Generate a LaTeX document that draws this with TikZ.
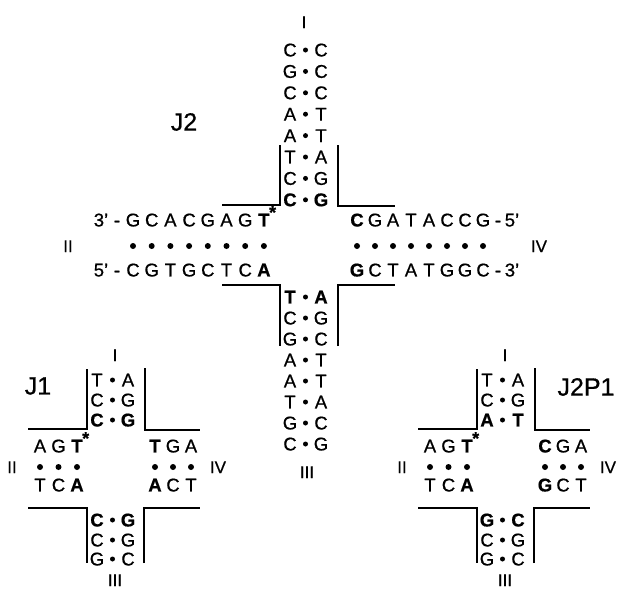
\documentclass[tikz,border=0pt]{standalone}
\usepackage{fontspec}
\setmainfont{Liberation Sans}[FakeBold=0.7]
\tikzset{
  nt/.style={inner sep=0pt, text height=12.9pt, text depth=0pt, font=\fontsize{18.5}{21}\selectfont},
  rn/.style={inner sep=0pt, text height=12.2pt, text depth=0pt, font=\fontsize{17}{20}\selectfont},
  jl/.style={inner sep=0pt, font=\fontsize{25}{29}\selectfont},
  pd/.style={circle, fill=black, inner sep=0pt, minimum size=5pt},
  hd/.style={circle, fill=black, inner sep=0pt, minimum size=6pt},
  helix/.style={line width=1.6pt},
  ast/.style={inner sep=0pt, anchor=base west, font=\fontsize{18}{20}\selectfont\bfseries},
}
% pair row: name, x of left letter, y, left, right
\newcommand\bpr[5]{%
  \node[nt] (#1l) at (#2,#3) {#4};
  \node[pd] (#1d) at (#2+15.5,#3) {};
  \node[nt] (#1r) at (#2+31,#3) {#5};}
\begin{document}
\begin{tikzpicture}[x=1pt,y=-1pt]
\useasboundingbox (0,0) rectangle (621,592);

% ================= J2 =================
\node[jl] (j2lab) at (184,122) {J2};
\node[rn] (j2I) at (304,22) {I};
\bpr{j2a}{290}{50}{C}{C}
\bpr{j2b}{290}{71.4}{G}{C}
\bpr{j2c}{290}{92.8}{C}{C}
\bpr{j2d}{290}{114.2}{A}{T}
\bpr{j2e}{290}{135.6}{A}{T}
\bpr{j2f}{290}{157}{T}{A}
\bpr{j2g}{290}{178.4}{C}{G}
\bpr{j2h}{290}{199.8}{\bfseries C}{\bfseries G}

\bpr{j2p}{290}{297}{\bfseries T}{\bfseries A}
\bpr{j2q}{290}{318}{C}{G}
\bpr{j2r}{290}{339}{G}{C}
\bpr{j2s}{290}{360}{A}{T}
\bpr{j2t}{290}{381}{A}{T}
\bpr{j2u}{290}{402}{T}{A}
\bpr{j2v}{290}{423}{G}{C}
\bpr{j2w}{290}{444}{C}{G}
\node[rn] (j2III) at (307,472) {III};

% left arm
\node[rn] (j2II) at (68,246) {II};
\node[nt] (j2l3) at (101,220) {3'};
\node[nt] (j2lh) at (117,220) {-};
\node[nt] (j2l5) at (101,270) {5'};
\node[nt] (j2lh2) at (117,270) {-};
\foreach \c [count=\i] in {G,C,A,C,G,A,G,{\bfseries T}}
  \node[nt] (j2ta\i) at ({133+18.7*(\i-1)},220) {\c};
\foreach \c [count=\i] in {C,G,T,G,C,T,C,{\bfseries A}}
  \node[nt] (j2ba\i) at ({133+18.7*(\i-1)},270) {\c};
\foreach \i in {1,...,8}
  \node[hd] (j2da\i) at ({133+18.7*(\i-1)},246) {};
\node[ast] (j2st) at ([xshift=5pt,yshift=1.5pt]j2ta8.center) {*};

% right arm
\foreach \c [count=\i] in {{\bfseries C},G,A,T,A,C,C,G}
  \node[nt] (j2tb\i) at ({357+18*(\i-1)},220) {\c};
\foreach \c [count=\i] in {{\bfseries G},C,T,A,T,G,G,C}
  \node[nt] (j2bb\i) at ({357+18*(\i-1)},270) {\c};
\foreach \i in {1,...,8}
  \node[hd] (j2db\i) at ({357+18*(\i-1)},246) {};
\node[nt] (j2rh) at (498,220) {-};
\node[nt] (j2r5) at (512,220) {5'};
\node[nt] (j2rh2) at (498,270) {-};
\node[nt] (j2r3) at (512,270) {3'};
\node[rn] (j2IV) at (539,246) {IV};

\draw[helix] (222,205) -- (280,205) -- (280,145);
\draw[helix] (338,145) -- (338,206) -- (395,206);
\draw[helix] (222,285) -- (280,285) -- (280,346);
\draw[helix] (338,346) -- (338,285) -- (395,285);

% ================= J1 =================
\node[jl] (j1lab) at (38,386) {J1};
\node[rn] (j1I) at (115,355) {I};
\bpr{j1a}{97}{380}{T}{A}
\bpr{j1b}{97}{400}{C}{G}
\bpr{j1c}{97}{420}{\bfseries C}{\bfseries G}
\bpr{j1d}{97}{520}{\bfseries C}{\bfseries G}
\bpr{j1e}{97}{540}{C}{G}
\bpr{j1f}{97}{559}{G}{C}
\node[rn] (j1III) at (115,580) {III};
\node[rn] (j1II) at (12,467) {II};
\node[rn] (j1IV) at (218,467) {IV};
\foreach \c [count=\i] in {A,G,{\bfseries T}}
  \node[nt] (j1ta\i) at ({40+18.5*(\i-1)},446) {\c};
\foreach \c [count=\i] in {T,C,{\bfseries A}}
  \node[nt] (j1ba\i) at ({40+18.5*(\i-1)},485) {\c};
\foreach \i in {1,2,3}
  \node[hd] (j1da\i) at ({40+18.5*(\i-1)},467) {};
\node[ast] (j1st) at ([xshift=5pt,yshift=1.5pt]j1ta3.center) {*};
\foreach \c [count=\i] in {{\bfseries T},G,A}
  \node[nt] (j1tb\i) at ({155+18*(\i-1)},446) {\c};
\foreach \c [count=\i] in {{\bfseries A},C,T}
  \node[nt] (j1bb\i) at ({155+18*(\i-1)},485) {\c};
\foreach \i in {1,2,3}
  \node[hd] (j1db\i) at ({155+18*(\i-1)},467) {};
\draw[helix] (28,429) -- (87,429) -- (87,369);
\draw[helix] (145,368) -- (145,430) -- (200,430);
\draw[helix] (28,508) -- (87,508) -- (87,563);
\draw[helix] (144,563) -- (144,508) -- (200,508);

% ================= J2P1 =================
\begin{scope}[xshift=390pt]
\node[jl] (j3lab) at (196,387) {J2P1};
\node[rn] (j3I) at (115,355) {I};
\bpr{j3a}{97}{380}{T}{A}
\bpr{j3b}{97}{400}{C}{G}
\bpr{j3c}{97}{420}{\bfseries A}{\bfseries T}
\bpr{j3d}{97}{520}{\bfseries G}{\bfseries C}
\bpr{j3e}{97}{540}{C}{G}
\bpr{j3f}{97}{559}{G}{C}
\node[rn] (j3III) at (115,580) {III};
\node[rn] (j3II) at (12,467) {II};
\node[rn] (j3IV) at (218,467) {IV};
\foreach \c [count=\i] in {A,G,{\bfseries T}}
  \node[nt] (j3ta\i) at ({40+18.5*(\i-1)},446) {\c};
\foreach \c [count=\i] in {T,C,{\bfseries A}}
  \node[nt] (j3ba\i) at ({40+18.5*(\i-1)},485) {\c};
\foreach \i in {1,2,3}
  \node[hd] (j3da\i) at ({40+18.5*(\i-1)},467) {};
\node[ast] (j3st) at ([xshift=5pt,yshift=1.5pt]j3ta3.center) {*};
\foreach \c [count=\i] in {{\bfseries C},G,A}
  \node[nt] (j3tb\i) at ({155+18*(\i-1)},446) {\c};
\foreach \c [count=\i] in {{\bfseries G},C,T}
  \node[nt] (j3bb\i) at ({155+18*(\i-1)},485) {\c};
\foreach \i in {1,2,3}
  \node[hd] (j3db\i) at ({155+18*(\i-1)},467) {};
\draw[helix] (28,429) -- (87,429) -- (87,369);
\draw[helix] (145,368) -- (145,430) -- (200,430);
\draw[helix] (28,508) -- (87,508) -- (87,563);
\draw[helix] (144,563) -- (144,508) -- (200,508);
\end{scope}
\end{tikzpicture}
\end{document}
